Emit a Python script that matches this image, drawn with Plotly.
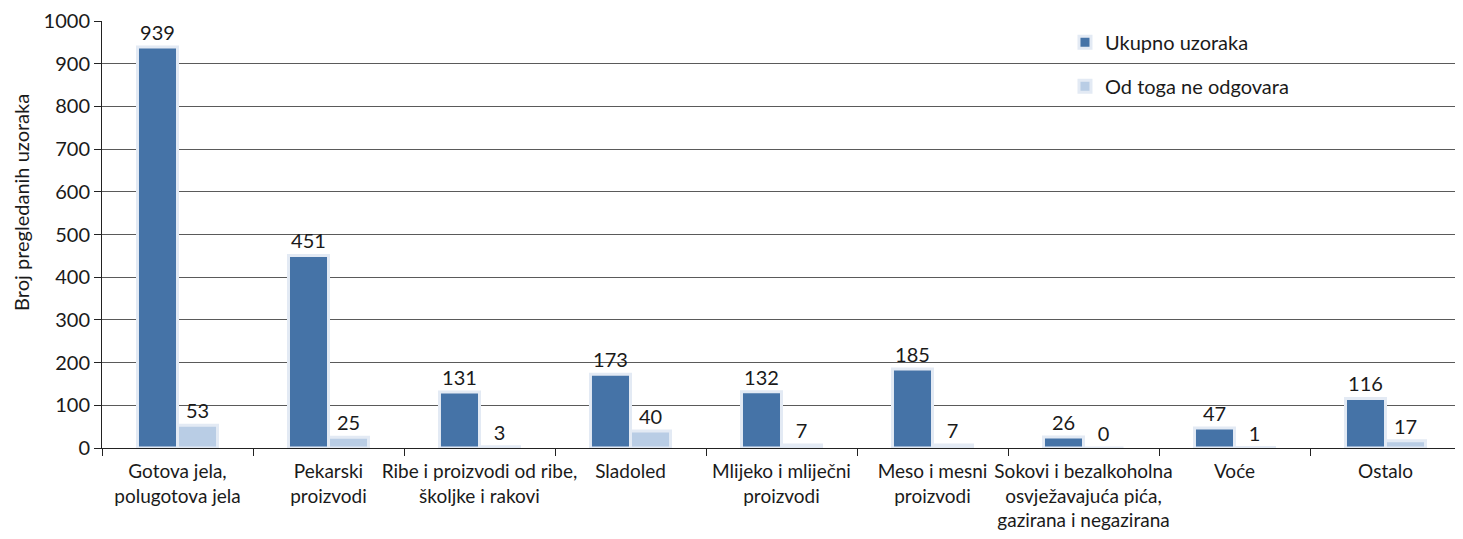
import plotly.graph_objects as go

categories = [
    "Gotova jela,<br>polugotova jela",
    "Pekarski<br>proizvodi",
    "Ribe i proizvodi od ribe,<br>školjke i rakovi",
    "Sladoled",
    "Mlijeko i mliječni<br>proizvodi",
    "Meso i mesni<br>proizvodi",
    "Sokovi i bezalkoholna<br>osvježavajuća pića,<br>gazirana i negazirana",
    "Voće",
    "Ostalo",
]
ukupno = [939, 451, 131, 173, 132, 185, 26, 47, 116]
ne_odgovara = [53, 25, 3, 40, 7, 7, 0, 1, 17]
y_ticks = [0, 100, 200, 300, 400, 500, 600, 700, 800, 900, 1000]
y_title = "Broj pregledanih uzoraka"

FONT = "Lato"
TXT = "#1a1a1a"
FS = 19
NUM_FS = 20

fig = go.Figure()
fig.add_trace(go.Bar(
    name="Ukupno uzoraka", x=categories, y=ukupno,
    marker=dict(color="#4573a7", line=dict(color="#e3eaf4", width=3)),
    text=ukupno, textposition="outside", cliponaxis=False,
    textfont=dict(family=FONT, size=NUM_FS, color=TXT),
    legendgroup="a", hoverinfo="x+y",
))
fig.add_trace(go.Bar(
    name="Od toga ne odgovara", x=categories, y=ne_odgovara,
    marker=dict(color="#b9cde5", line=dict(color="#e3eaf4", width=3)),
    text=ne_odgovara, textposition="outside", cliponaxis=False,
    textfont=dict(family=FONT, size=NUM_FS, color=TXT),
    legendgroup="b", hoverinfo="x+y",
))

fig.update_layout(
    width=1455, height=531,
    margin=dict(l=94, r=2, t=13, b=91),
    paper_bgcolor="white", plot_bgcolor="white",
    barmode="group", bargap=0.47, bargroupgap=0.0,
    font=dict(family=FONT, size=FS, color=TXT),
    showlegend=True,
    legend=dict(
        x=0.7086, y=0.996, xanchor="left", yanchor="top",
        bgcolor="rgba(0,0,0,0)", font=dict(family=FONT, size=FS + 1, color=TXT),
        tracegroupgap=15, traceorder="grouped",
    ),
    uniformtext=dict(mode=False),
)
fig.add_annotation(
    text=y_title, textangle=-90, xref="paper", yref="paper",
    x=-0.0596, y=0.574, xanchor="center", yanchor="middle", showarrow=False,
    font=dict(family=FONT, size=FS + 1, color=TXT),
)
fig.update_xaxes(
    type="category", showline=True, linecolor="#222", linewidth=1,
    ticks="outside", tickson="boundaries", ticklen=7, tickcolor="#222",
    showgrid=False, tickangle=0, automargin=False, ticklabelstandoff=6,
    tickfont=dict(family=FONT, size=FS, color=TXT),
)
fig.update_yaxes(
    range=[0, 1000], tickvals=y_ticks, showline=True, linecolor="#222", linewidth=1,
    ticks="outside", ticklen=7, tickcolor="#222", automargin=False,
    showgrid=True, gridcolor="#5a5a5a", gridwidth=1, zeroline=False,
    tickfont=dict(family=FONT, size=NUM_FS, color=TXT),
)

fig.write_html("out.html")
